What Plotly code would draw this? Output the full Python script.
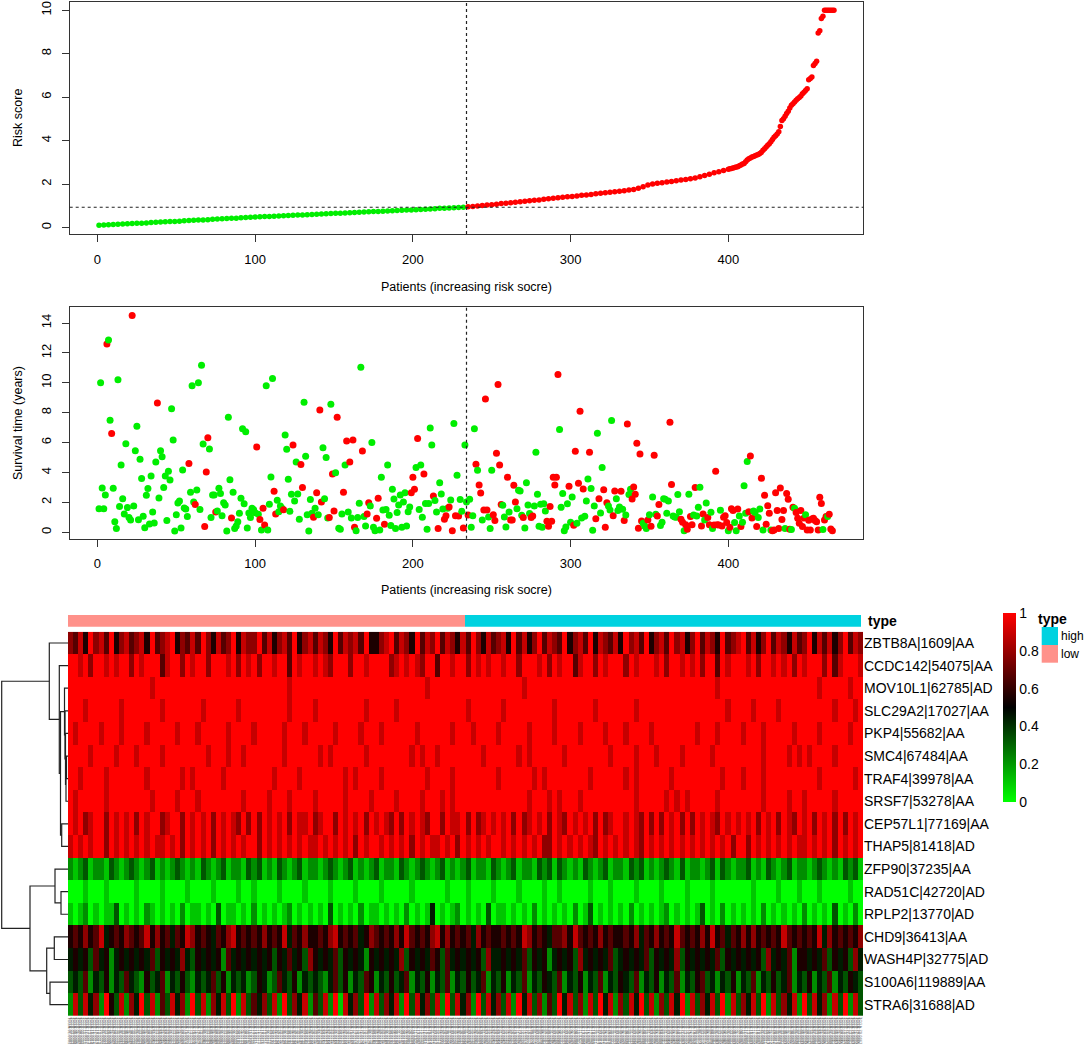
import plotly.graph_objects as go

# ---------------- data ----------------
n_patients = 467
n_low = 234          # low-risk patients (cut at the median risk score)

# risk score curve (every 3rd patient up to 400, then every patient)
risk_patient = list(range(1, 401, 3)) + list(range(401, 468))
risk_score = [
    0.10, 0.11, 0.12, 0.14, 0.15, 0.16, 0.17, 0.18, 0.19, 0.20, 0.21, 0.23, 0.24, 0.25, 0.26, 0.27, 0.28,
    0.29, 0.31, 0.32, 0.33, 0.34, 0.35, 0.36, 0.38, 0.39, 0.40, 0.41, 0.42, 0.43, 0.45, 0.46, 0.47, 0.48,
    0.49, 0.50, 0.51, 0.52, 0.53, 0.54, 0.55, 0.56, 0.57, 0.58, 0.59, 0.60, 0.61, 0.62, 0.63, 0.64, 0.65,
    0.66, 0.67, 0.68, 0.69, 0.70, 0.71, 0.72, 0.73, 0.74, 0.75, 0.76, 0.77, 0.78, 0.79, 0.80, 0.81,
    0.82, 0.83, 0.84, 0.85, 0.86, 0.88, 0.89, 0.90, 0.91, 0.92, 0.93,
    0.95, 0.97, 0.99, 1.01, 1.03, 1.05, 1.07, 1.10, 1.12, 1.14, 1.16, 1.18, 1.21, 1.23, 1.25, 1.27,
    1.30, 1.32, 1.34, 1.37, 1.39, 1.41, 1.43, 1.45, 1.48, 1.50, 1.52, 1.55, 1.57, 1.60, 1.62, 1.64,
    1.67, 1.69, 1.72, 1.75, 1.80, 1.87, 1.95, 2.00, 2.03, 2.06, 2.09, 2.12, 2.15, 2.18, 2.21, 2.24,
    2.28, 2.33, 2.39, 2.45, 2.52, 2.57, 2.62, 2.68,
    2.70, 2.72, 2.74, 2.76, 2.78, 2.80, 2.84, 2.88, 2.92, 2.95, 3.02, 3.10, 3.16, 3.20, 3.24, 3.27,
    3.30, 3.33, 3.36, 3.40, 3.46, 3.55, 3.62, 3.70, 3.78, 3.85, 3.95, 4.05, 4.15, 4.22, 4.30, 4.40,
    4.65, 4.92, 5.00, 5.12, 5.25, 5.35, 5.50, 5.62, 5.70, 5.78, 5.85, 5.92, 5.98, 6.05, 6.15, 6.22,
    6.30, 6.38, 6.80, 6.86, 6.92, 7.45, 7.55, 7.65, 8.95, 9.05, 9.62, 9.72,
    10.0, 10.0, 10.0, 10.0, 10.0, 10.0, 10.0,
]

# survival time (years) per patient, in risk order; 1 = dead (red), 0 = alive (green)
surv_years = [
    1.58, 10.0, 2.97, 1.58, 2.5, 12.6, 12.87, 7.5, 6.6, 2.94, 0.7, 0.25, 10.2, 1.72, 4.5, 2.25, 1.22, 5.93, 1.65, 0.98,
    0.82, 14.5, 1.76, 5.46, 7.1, 0.83, 4.88, 3.6, 1.07, 0.31, 2.47, 2.92, 0.56, 3.77, 1.36, 0.62, 4.7, 8.65, 2.3, 5.46,
    5.06, 2.99, 3.77, 0.78, 4.08, 3.5, 8.27, 6.18, 0.09, 1.18, 1.96, 2.1, 0.29, 4.17, 1.63, 1.56, 1.05, 4.6, 2.68, 9.8,
    2.03, 1.85, 2.83, 10.0, 1.52, 11.17, 5.9, 0.38, 4.03, 6.33, 5.57, 0.98, 2.5, 2.5, 1.36, 1.43, 2.94, 2.6, 1.1, 1.98,
    1.83, 0.09, 7.7, 3.52, 0.96, 2.68, 0.25, 0.42, 0.71, 1.27, 2.27, 6.93, 1.9, 6.73, 0.29, 1.29, 0.98, 1.6, 1.5, 1.3,
    5.7, 1.2, 0.85, 0.16, 1.6, 0.49, 9.8, 0.16, 1.87, 3.7, 10.28, 2.74, 1.23, 2.14, 1.38, 1.76, 1.6, 1.5, 6.5, 5.55,
    3.55, 1.4, 2.54, 5.84, 2.1, 4.7, 2.56, 0.87, 4.53, 3.0, 8.7, 5.08, 1.18, 0.09, 2.2, 1.27, 1.0, 1.6, 2.65, 1.18,
    8.18, 2.03,
    5.66, 2.25, 5.0, 0.96, 0.98, 8.56, 3.9, 1.43, 3.99, 7.69, 0.27, 0.2, 1.23, 2.68, 4.5, 6.11, 1.36, 4.7, 0.96, 6.18,
    0.33, 0.11, 0.98, 1.94, 11.04, 5.44, 1.05, 0.42, 1.23, 1.98, 1.76, 6.0, 0.33, 0.11, 0.94, 2.27, 0.16, 3.68, 1.49, 0.54,
    1.52, 4.5, 1.14, 0.45, 2.88, 2.23, 0.25, 1.32, 1.83, 2.5, 0.33, 2.03, 2.65, 0.42, 1.38, 1.69, 2.65, 3.68, 2.88, 4.33,
    6.27, 1.52, 4.5, 1.0, 3.9, 1.92, 0.2, 1.92, 6.98, 5.84, 2.43, 2.12, 1.36, 0.25, 3.32, 2.56, 1.56, 0.87, 1.11, 1.6,
    1.69, 2.16, 0.11, 7.27, 1.11, 3.81, 1.09, 2.19, 1.4, 0.29, 5.84, 2.03, 1.16, 2.21, 0.33, 1.11, 6.93, 4.55, 4.15, 3.17,
    2.63, 0.82, 1.49, 8.92, 1.49, 1.03, 0.25, 4.15, 1.18, 0.78, 5.28, 9.88, 4.5, 1.85, 1.81, 1.03, 0.36, 3.68, 1.36, 0.82,
    0.82, 3.14, 2.03, 1.58, 2.81, 2.76, 1.14, 0.98, 0.29, 3.32, 1.83, 1.25, 0.98, 1.09, 1.76, 5.35, 2.54, 0.4, 1.87, 0.33,
    1.9, 1.43, 0.74, 0.4, 1.72, 0.74, 3.68, 3.17, 3.68, 10.55, 6.87, 1.67, 2.59, 0.11, 0.36, 1.9, 3.08, 0.67, 2.36, 0.47,
    5.42, 0.6, 3.28,
    8.09, 0.96, 2.9, 1.07, 2.1, 3.57, 5.35, 2.92, 0.13, 1.76, 0.91, 6.62, 2.25, 1.29,
    4.33, 2.85, 0.33, 1.98, 1.76, 1.49, 7.47, 1.11, 2.76, 2.25, 1.45, 1.69, 2.74, 1.54, 0.78, 1.16, 7.25, 2.52, 2.88, 2.23,
    3.03, 2.54, 5.95, 0.27, 5.24, 0.76, 0.6, 0.42, 0.25, 0.82, 1.18, 0.4, 2.36, 5.15, 1.2, 1.09, 1.85, 0.45, 0.67, 2.25,
    2.21, 1.27, 2.1, 7.36, 3.19, 1.09, 1.03, 1.0, 2.52, 1.38, 0.87, 0.67, 0.11, 0.51, 0.2, 2.54, 1.05, 0.51, 1.16, 2.99,
    1.09, 1.67, 3.01, 0.42, 1.23, 0.82, 1.96, 0.98, 0.51, 1.34, 0.25, 0.49, 4.08, 0.51, 0.49, 1.47, 0.42, 1.0, 1.11, 0.65,
    0.11, 0.33, 1.58, 1.45, 0.65, 0.11, 1.56, 1.09, 0.38, 0.67, 3.12, 1.27, 4.73, 1.38, 5.1, 0.96, 1.43, 1.32, 0.38, 0.98,
    1.56, 3.61, 0.16, 2.47, 0.54, 1.78, 1.27, 0.16, 0.11, 0.16, 2.65, 1.45, 0.25, 2.97, 0.85, 1.45, 0.25, 2.59, 2.21, 0.2,
    0.18, 1.67, 1.6, 1.32, 0.94, 0.6, 1.45, 0.38, 0.96, 1.18, 0.16, 0.8, 0.16, 0.89, 0.94, 0.78, 0.71, 0.16, 2.34, 1.92,
    0.18, 0.82, 1.05, 1.05, 1.2, 0.22, 0.11,
]
surv_dead = [
    0, 0, 0, 0, 0, 1, 0, 0, 1, 0, 0, 0, 0, 0, 0, 0, 0, 0, 0, 0,
    0, 1, 0, 0, 0, 0, 0, 0, 0, 0, 0, 0, 0, 0, 0, 0, 0, 1, 0, 0,
    0, 0, 0, 0, 0, 0, 0, 0, 0, 0, 0, 0, 0, 0, 0, 0, 0, 1, 0, 0,
    0, 1, 0, 0, 0, 0, 0, 1, 1, 1, 0, 0, 0, 0, 1, 0, 0, 0, 0, 0,
    0, 0, 0, 0, 1, 0, 0, 0, 0, 0, 0, 0, 0, 0, 0, 0, 0, 0, 0, 0,
    1, 0, 1, 0, 1, 1, 0, 0, 0, 0, 0, 1, 1, 0, 0, 0, 0, 1, 0, 0,
    0, 0, 0, 1, 0, 0, 0, 0, 1, 1, 0, 0, 0, 0, 0, 0, 1, 0, 1, 0,
    1, 1,
    0, 0, 0, 0, 1, 0, 1, 1, 0, 1, 0, 0, 0, 1, 0, 1, 0, 1, 0, 1,
    1, 0, 0, 0, 0, 1, 0, 0, 1, 1, 0, 0, 0, 0, 1, 1, 0, 0, 0, 1,
    0, 0, 0, 0, 0, 0, 0, 0, 0, 0, 0, 0, 0, 0, 0, 0, 1, 1, 1, 0,
    1, 0, 0, 0, 1, 0, 0, 0, 0, 0, 1, 0, 0, 1, 0, 0, 0, 1, 1, 0,
    1, 0, 1, 0, 1, 0, 1, 0, 0, 1, 0, 0, 1, 0, 0, 0, 0, 1, 0, 1,
    1, 0, 1, 1, 1, 0, 0, 0, 1, 1, 1, 1, 1, 1, 0, 0, 0, 1, 0, 1,
    1, 1, 1, 0, 0, 0, 0, 1, 0, 0, 0, 0, 1, 1, 0, 0, 0, 0, 0, 0,
    0, 0, 1, 1, 1, 1, 1, 1, 1, 1, 0, 0, 0, 0, 0, 0, 1, 0, 0, 1,
    1, 0, 1,
    1, 0, 1, 0, 0, 0, 1, 0, 0, 0, 1, 0, 1, 0,
    0, 1, 1, 1, 0, 0, 0, 1, 1, 0, 0, 0, 1, 0, 1, 0, 1, 0, 0, 1,
    1, 1, 1, 1, 1, 1, 0, 0, 0, 1, 0, 1, 0, 1, 0, 1, 1, 0, 0, 0,
    0, 0, 0, 1, 1, 0, 0, 0, 0, 0, 1, 1, 0, 1, 1, 0, 1, 1, 0, 1,
    0, 0, 0, 1, 1, 0, 0, 1, 1, 0, 0, 1, 1, 1, 1, 0, 1, 1, 1, 1,
    0, 1, 1, 1, 0, 0, 1, 0, 1, 0, 0, 0, 0, 1, 1, 1, 0, 0, 1, 0,
    0, 1, 0, 1, 1, 1, 1, 0, 1, 1, 1, 1, 1, 1, 1, 1, 0, 1, 1, 1,
    0, 1, 0, 1, 1, 1, 1, 1, 1, 0, 1, 1, 1, 1, 1, 1, 1, 1, 1, 1,
    0, 1, 1, 0, 1, 1, 1,
]

# heatmap: gene rows, one character per block of 3 patients, value = digit / 9
genes = [
    "ZBTB8A|1609|AA", "CCDC142|54075|AA", "MOV10L1|62785|AD", "SLC29A2|17027|AA", "PKP4|55682|AA",
    "SMC4|67484|AA", "TRAF4|39978|AA", "SRSF7|53278|AA", "CEP57L1|77169|AA", "THAP5|81418|AD",
    "ZFP90|37235|AA", "RAD51C|42720|AD", "RPLP2|13770|AD", "CHD9|36413|AA", "WASH4P|32775|AD",
    "S100A6|119889|AA", "STRA6|31688|AD",
]
patients_per_cell = 3
expr_rows = [
    "768597869578 678596789576 869758679587 796857869578 687596878695 578968759687 968758697586 785968579687 695786958768 597869578697 857968759678 968579687586 795868579687",
    "998979989899 798999689979 899799989798 979989969899 898799979989 999789898799 699899798989 989979998979 899689979899 979899989799 898979969899 989799898979 899979689998",
    "999999999999 999989999999 999999999999 999999989999 999999999999 999999999989 999999999999 999998999999 999999999999 999999999999 999999989999 999999999999 999899999899",
    "999899999989 999999899999 998999999899 999999989999 899999999989 999989999999 999999899999 989999999998 999999989999 999899999999 999999999899 998999989999 999999899989",
    "989999899989 999899999899 989999989999 899999899989 999989999899 989999998999 999899989999 899999899998 999989999899 989999899999 999899989999 899989999989 999899999899",
    "999989999899 989999899999 999899989989 999999899999 989899999989 999999989899 899999999899 999989899999 989999999989 999899989999 899999899999 999989999898 989999899999",
    "998999989999 999899999989 899999899999 999989999899 999999898999 989999999989 999899999999 899999989899 999999899999 989899999989 999999998999 899989999999 999899999989",
    "989999989999 999989999899 989999999989 999899989999 899999899998 999989999899 989899999999 999999899989 899989999999 999899999898 989999989999 999989999899 899999899999",
    "989789979898 979899789979 898979898797 979898979889 789979898979 898797989879 979889797898 989797898979 879898979789 989879797989 797989879898 989798979879 897989797989",
    "898989979898 989898898979 898979898989 979898989898 898989897989 989898979898 898979898989 989898989779 898989879898 989879898989 898989898979 979898989898 898989798989",
    "212312213212 321231212321 213212312213 231213212312 212321231212 312213212321 231212312213 212312213231 321213212312 213231212321 312212313212 231213212312 212321213231",
    "000100010000 010000100001 000010000100 100001000010 000100001000 010000010000 001000100001 000010000100 100000100010 000100001000 010000100000 001000010001 000100000100",
    "101201011301 010210101020 110103011010 201010120101 010301010201 101010201014 010120101030 110101020101 010201301010 102010101201 010130102010 101020101010 201010301020",
    "565756845657 656857564658 756546578565 657565846575 565785656457 656575865657 857565647565 565658756546 675865657565 565746575658 656575856465 757565658656 565847565657",
    "454536452454 545463545474 354545264545 454535464537 545463545425 454547354546 536454545374 454546354524 545374545463 454546354547 354545463545 454537454625 545463545374",
    "343624352436 432534624353 243463524342 354236435243 432463524365 243534624352 436243534624 352436243543 624352436243 543624352436 243563424352 436243534624 352436243543",
    "283847295382 749382638472 938274839283 647382937482 638291847392 837482938473 829384729384 738294837263 948372839482 738493827384 928374839283 748392837482 938472839283",
]

# row clustering, hclust style: negative = gene (1-based), positive = earlier merge
row_merge = [
    (-6, -7, 1.5), (1, -8, 2.0), (-5, 2, 2.5), (-4, 3, 3.0), (-3, 4, 3.5),
    (-9, -10, 6.3), (5, 6, 7.5), (-2, 7, 8.7), (-1, 8, 18.7),
    (-12, -13, 7.0), (-11, 10, 13.0), (-14, -15, 13.7), (-16, -17, 18.0),
    (12, 13, 21.3), (11, 14, 38.0), (9, 15, 66.3),
]

sample_ids = ["TCGA-%02d-%04d" % (i % 97, i) for i in range(1, n_patients + 1)]

# ---------------- styling ----------------
GREEN = "#00EE00"
RED = "#FF0000"
LOW_COL = "#FF918A"
HIGH_COL = "#00D2E0"
FONT = "Liberation Sans, Arial, Helvetica, sans-serif"
W, H = 1084, 1052


def px_x(p):
    return p / W


def px_y(p):
    return 1 - p / H


fig = go.Figure()

# --- risk score panel
lo = [(p, s) for p, s in zip(risk_patient, risk_score) if p <= n_low]
hi = [(p, s) for p, s in zip(risk_patient, risk_score) if p > n_low]
for pts, col in ((lo, GREEN), (hi, RED)):
    fig.add_trace(go.Scatter(
        x=[p for p, _ in pts], y=[s for _, s in pts], mode="markers",
        marker=dict(color=col, size=5.5, line=dict(width=0)),
        xaxis="x", yaxis="y", showlegend=False))
cutoff = max(s for p, s in zip(risk_patient, risk_score) if p <= n_low)

# --- survival panel
surv_x = list(range(1, len(surv_years) + 1))
fig.add_trace(go.Scatter(
    x=surv_x, y=surv_years, mode="markers",
    marker=dict(color=[RED if d else GREEN for d in surv_dead], size=7, line=dict(width=0)),
    xaxis="x2", yaxis="y2", showlegend=False))

# --- heatmap
z = []
for row in expr_rows:
    z.append([int(c) / 9 for c in row.replace(" ", "")])
ncol = min(len(r) for r in z)
z = [r[:ncol] for r in z]
fig.add_trace(go.Heatmap(
    z=z, x0=(patients_per_cell + 1) / 2, dx=patients_per_cell, y=list(range(len(genes))),
    colorscale=[[0, "#00FF00"], [0.5, "#000000"], [1, "#FF0000"]], zmin=0, zmax=1,
    xaxis="x3", yaxis="y3", hoverinfo="skip",
    colorbar=dict(x=px_x(1002.7), xanchor="left", y=px_y(707.5), yanchor="middle",
                  len=189 / H, lenmode="fraction", thickness=13, thicknessmode="pixels",
                  xpad=0, ypad=0, outlinewidth=0, ticks="", ticklen=0,
                  tickvals=[0, 0.2, 0.4, 0.6, 0.8, 1], ticktext=["0", "0.2", "0.4", "0.6", "0.8", "1"],
                  tickfont=dict(size=14, color="black", family=FONT))))

# --- type annotation bar
types = [[0 if i <= n_low else 1 for i in range(1, n_patients + 1)]]
fig.add_trace(go.Heatmap(
    z=types, x0=1, dx=1, y=[0], colorscale=[[0, LOW_COL], [1, HIGH_COL]], zmin=0, zmax=1,
    showscale=False, xaxis="x4", yaxis="y4", hoverinfo="skip"))

# --- row dendrogram
pos, hgt = {}, {}
dx_, dy_ = [], []


def node(k):
    if k < 0:
        return -k - 1, 0.0
    return pos[k], hgt[k]


for k, (a, b, h) in enumerate(row_merge, start=1):
    ya, ha = node(a)
    yb, hb = node(b)
    dx_ += [ha, h, h, hb, None]
    dy_ += [ya, ya, yb, yb, None]
    pos[k] = (ya + yb) / 2
    hgt[k] = h
fig.add_trace(go.Scatter(x=dx_, y=dy_, mode="lines", line=dict(color="#222", width=1.2),
                         xaxis="x5", yaxis="y3", showlegend=False, hoverinfo="skip"))

# --- cutoff lines
dash = dict(color="#222", width=1.2, dash="3px,3px")
fig.add_shape(type="line", xref="x", yref="y domain", x0=n_low, x1=n_low, y0=0, y1=1, line=dash)
fig.add_shape(type="line", xref="x domain", yref="y", x0=0, x1=1, y0=cutoff, y1=cutoff, line=dash)
fig.add_shape(type="line", xref="x2", yref="y2 domain", x0=n_low, x1=n_low, y0=0, y1=1, line=dash)

# --- axes
box = dict(showline=True, linecolor="#333", linewidth=1, mirror=True, ticks="outside",
           ticklen=7, tickwidth=1, tickcolor="#333", showgrid=False, zeroline=False,
           tickfont=dict(size=13, color="black", family=FONT))
xr = [-17.6, 485.6]
fig.update_layout(
    xaxis=dict(box, domain=[px_x(69.7), px_x(863.3)], range=xr, tickvals=[0, 100, 200, 300, 400],
               anchor="y", ticklabelstandoff=6),
    yaxis=dict(box, domain=[px_y(234), px_y(1.5)], range=[-0.3, 10.4], tickvals=[0, 2, 4, 6, 8, 10],
               tickangle=-90, anchor="x", ticklabelstandoff=6),
    xaxis2=dict(box, domain=[px_x(69.7), px_x(863.3)], range=xr, tickvals=[0, 100, 200, 300, 400],
                anchor="y2", ticklabelstandoff=6),
    yaxis2=dict(box, domain=[px_y(538.7), px_y(307.3)], range=[-0.43, 15.05],
                tickvals=[0, 2, 4, 6, 8, 10, 12, 14], tickangle=-90, anchor="x2", ticklabelstandoff=6),
    xaxis3=dict(domain=[px_x(68), px_x(863)], range=[0.5, n_patients + 1.5], anchor="y3",
                showgrid=False, zeroline=False, showline=False, ticks="",
                tickmode="array", tickvals=list(range(1, n_patients + 1)), ticktext=sample_ids,
                tickangle=90, tickfont=dict(size=4, color="#666", family=FONT), automargin=False),
    yaxis3=dict(domain=[px_y(1016), px_y(631.7)], range=[len(genes) - 0.5, -0.5], anchor="x3",
                side="right", showgrid=False, zeroline=False, showline=False, ticks="",
                tickmode="array", tickvals=list(range(len(genes))), ticktext=genes,
                tickfont=dict(size=14, color="black", family=FONT), automargin=False),
    xaxis4=dict(domain=[px_x(68), px_x(863)], matches="x3", anchor="y4", visible=False),
    yaxis4=dict(domain=[px_y(626.7), px_y(615)], range=[-0.5, 0.5], anchor="x4", visible=False),
    xaxis5=dict(domain=[0, px_x(68)], range=[68, 0], anchor="y3", visible=False),
    width=W, height=H, margin=dict(l=0, r=0, t=0, b=0),
    plot_bgcolor="white", paper_bgcolor="white",
    font=dict(family=FONT, color="black"),
)

# --- titles and legend
ann = [
    dict(text="Risk score", x=px_x(18), y=px_y(118), textangle=-90, xanchor="center", font=dict(size=12.5)),
    dict(text="Patients (increasing risk socre)", x=px_x(466.5), y=px_y(287), xanchor="center", font=dict(size=12.5)),
    dict(text="Survival time (years)", x=px_x(18), y=px_y(423), textangle=-90, xanchor="center", font=dict(size=12.5)),
    dict(text="Patients (increasing risk socre)", x=px_x(466.5), y=px_y(590), xanchor="center", font=dict(size=12.5)),
    dict(text="<b>type</b>", x=px_x(866), y=px_y(621), xanchor="left", font=dict(size=14)),
    dict(text="<b>type</b>", x=px_x(1036), y=px_y(619), xanchor="left", font=dict(size=14)),
    dict(text="high", x=px_x(1059), y=px_y(636), xanchor="left", font=dict(size=12)),
    dict(text="low", x=px_x(1059), y=px_y(654), xanchor="left", font=dict(size=12)),
]
for a in ann:
    fig.add_annotation(xref="paper", yref="paper", showarrow=False, yanchor="middle", **a)
fig.add_shape(type="rect", xref="paper", yref="paper", x0=px_x(1041.7), x1=px_x(1058),
              y0=px_y(645), y1=px_y(627), fillcolor=HIGH_COL, line=dict(width=0))
fig.add_shape(type="rect", xref="paper", yref="paper", x0=px_x(1041.7), x1=px_x(1058),
              y0=px_y(662.7), y1=px_y(645), fillcolor=LOW_COL, line=dict(width=0))

fig.write_html("out.html", config={"displayModeBar": False},
               post_script="document.body.style.margin='0';")
